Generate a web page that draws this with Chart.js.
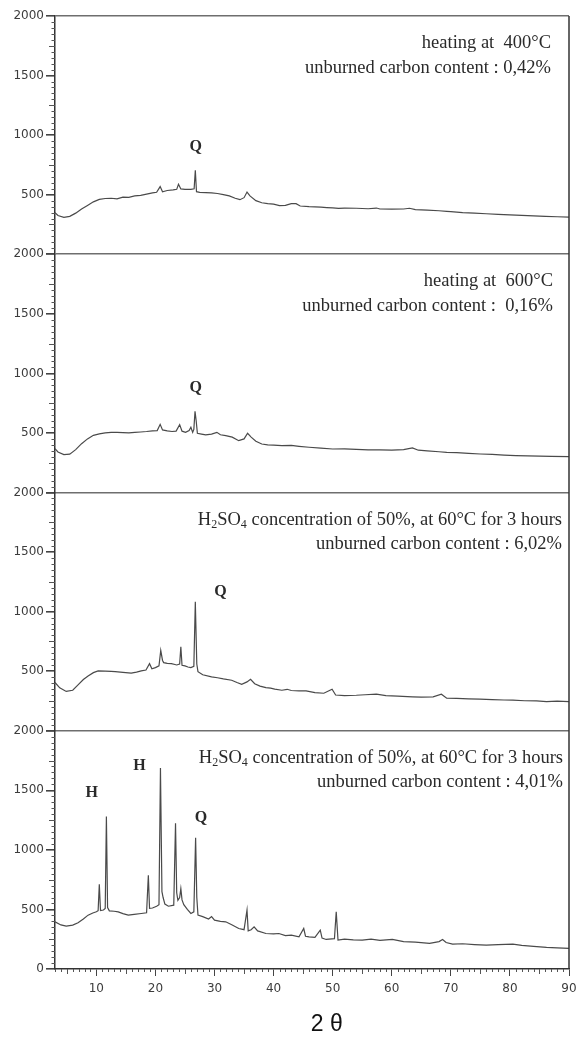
<!DOCTYPE html>
<html><head><meta charset="utf-8">
<script src="https://cdn.jsdelivr.net/npm/chart.js@4/dist/chart.umd.min.js"></script>
<style>html,body{margin:0;padding:0;background:#fff}#wrap{width:579px;height:1040px}</style>
</head><body><div id="wrap"><canvas id="c" width="579" height="1040"></canvas></div>
<script>
// ---- data (2θ in degrees, intensity in counts) ----
const yTicks = [0, 500, 1000, 1500, 2000];
const xTicks = [10, 20, 30, 40, 50, 60, 70, 80, 90];

const theta400 = [3,3.5,4.5,5.5,6.5,7.5,8.5,9.5,10.5,11.5,12.5,13.5,14.5,15.5,16.5,17.5,18.5,19.5,20.2,20.8,21.2,22,23,23.6,23.9,24.3,25,26,26.55,26.75,26.95,27.5,28.5,29.5,30.5,31.5,32.5,33.5,34.3,35,35.5,36,37,38,39,40,41,42,43,43.8,44.5,46,47,48,49,50,51,52,54,56,57.4,58,60,62,63,64,66,68,69.3,70,72,74,76,78,80,82,84,86,88,90];
const counts400 = [350,325,310,318,345,380,410,440,460,468,470,465,480,478,490,495,505,515,520,568,525,535,540,545,588,548,545,545,550,705,525,520,518,515,510,500,490,470,458,475,522,490,450,432,425,420,408,410,425,425,405,400,398,395,392,390,385,388,386,382,388,380,378,380,386,374,370,365,360,358,350,345,340,335,330,326,322,318,315,312];

const theta600 = [3,3.5,4.5,5.5,6.5,7.5,8.5,9.5,10.5,11.5,12.5,13.5,14.5,15.5,16.5,17.5,18.5,19.5,20.3,20.8,21.2,22,22.8,23.5,24.1,24.5,25.1,25.7,26,26.3,26.5,26.7,26.9,27.1,27.8,28.5,29.5,30.4,31,31.9,33,34.1,35,35.6,36.2,37,38,39,40,41.4,43,44.3,46,48,50,52,54,56,58,60,62,63.5,64.5,66,68,69.3,71,73,75,77,79,81,83,85,87,90];
const counts600 = [368,340,318,322,360,410,450,480,492,500,505,505,503,500,505,508,512,518,520,572,525,518,512,515,570,515,505,520,548,505,530,682,600,497,490,483,490,505,485,477,465,435,450,497,465,430,407,400,398,393,395,388,380,372,365,367,362,358,357,355,360,374,355,350,342,337,334,328,323,320,314,310,308,305,303,301];

const thetaAcidA = [3,3.8,4.9,6,6.9,7.8,8.6,9.5,10.3,11.5,12.5,13.2,14.5,15.9,16.8,17.6,18.4,19,19.4,20,20.6,20.9,21.2,21.4,22,22.7,23.3,23.6,24.1,24.3,24.5,25,25.5,26,26.5,26.75,27,27.2,28,29.5,30.5,31.5,32.9,33.8,34.6,35.5,36.1,36.8,37.7,38.7,39.5,40.2,41.4,42.3,43,44.3,45.5,47,48.5,49.9,50.5,52,54,55.5,57.4,59,61,63.5,65,67,68.4,69.3,71,73,74.9,77,79,80.5,82.5,84.5,86.2,88,90];
const countsAcidA = [405,360,330,340,385,430,460,488,502,500,498,497,490,483,492,502,510,563,520,530,545,675,590,572,565,563,556,552,560,705,550,544,535,530,540,1082,560,496,470,452,445,435,424,405,390,410,432,395,375,362,358,350,340,348,338,335,335,320,315,349,300,295,298,302,307,295,290,285,282,285,307,274,272,268,265,262,258,257,252,250,245,248,245];

const thetaAcidB = [3,4,4.9,6,6.9,7.8,8.6,9.4,10,10.3,10.5,10.7,11.2,11.5,11.7,11.9,12.2,13,13.7,14.5,15.4,16.4,17.6,18.5,18.8,19,19.5,20.2,20.6,20.85,21.1,21.3,21.6,22.2,23.1,23.4,23.6,23.8,24.1,24.3,24.5,24.8,25.4,26,26.5,26.8,27,27.2,28,29,29.5,30,31,31.9,33,34.1,35,35.5,35.7,36.2,36.7,37.3,38.7,40,40.9,42,43,44.3,45.1,45.4,46,47,47.9,48.2,48.9,50.3,50.6,50.9,52,53.5,55,56.5,58,60.1,62,64,66.4,68,68.6,69.2,70.3,72,74,76,78,80.5,82,84,86.2,88,90];
const countsAcidB = [396,370,360,368,388,420,452,470,480,490,711,490,495,508,1280,515,488,485,480,465,452,458,466,472,787,510,512,527,540,1688,650,600,545,527,536,1224,640,577,600,675,580,540,500,466,480,1102,600,452,440,420,440,410,400,396,370,340,330,494,320,330,354,320,298,295,298,280,285,270,340,275,270,265,326,260,248,255,480,243,250,245,243,250,240,248,230,225,215,230,248,222,209,212,205,200,205,209,198,190,181,178,173];

const panelTexts = [
  ["heating at  400°C", "unburned carbon content : 0,42%"],
  ["heating at  600°C", "unburned carbon content :  0,16%"],
  ["H2SO4 concentration of 50%, at 60°C for 3 hours", "unburned carbon content : 6,02%"],
  ["H2SO4 concentration of 50%, at 60°C for 3 hours", "unburned carbon content : 4,01%"]
];
const peakLabels = [
  [["Q", 26.8, 900]],
  [["Q", 26.8, 880]],
  [["Q", 31.0, 1170]],
  [["H", 9.2, 1475], ["H", 17.3, 1705], ["Q", 27.7, 1265]]
];

// ---- chart ----
const axisIds = ['y1', 'y2', 'y3', 'y4'];
const series = [[theta400, counts400], [theta600, counts600], [thetaAcidA, countsAcidA], [thetaAcidB, countsAcidB]];
const LINE = '#4a4a4a';

const datasets = series.map((s, i) => ({
  data: s[0].map((x, k) => ({x, y: s[1][k]})),
  yAxisID: axisIds[i],
  borderColor: LINE,
  borderWidth: 1.2,
  pointRadius: 0,
  tension: 0,
  fill: false
}));

function yScale(i) {
  return {
    type: 'linear',
    position: 'left',
    stack: 'panels',
    stackWeight: 1,
    weight: 4 - i,
    min: 0, max: 2000,
    afterBuildTicks: s => { s.ticks = yTicks.map(v => ({value: v})); },
    afterFit: s => { s.width = 55; },
    ticks: {
      font: {family: 'DejaVu Sans', size: 12},
      color: '#3c3c3c',
      padding: 2,
      callback: v => (v === 0 && i < 3) ? '' : String(v)
    },
    grid: {
      drawOnChartArea: true,
      color: c => (c.tick && c.tick.value === 2000) ? '#6e6e6e' : 'rgba(0,0,0,0)',
      lineWidth: 1.6,
      tickColor: '#444',
      tickLength: 9
    },
    border: {display: true, color: '#333', width: 1.5}
  };
}

const scales = {
  x: {
    type: 'linear',
    position: 'bottom',
    min: 3, max: 90,
    afterBuildTicks: s => { s.ticks = xTicks.map(v => ({value: v})); },
    afterFit: s => { s.height = 71; s.paddingLeft = 0; s.paddingRight = 0; },
    ticks: {font: {family: 'DejaVu Sans', size: 12}, color: '#3c3c3c', padding: 6, maxRotation: 0, autoSkip: false},
    grid: {drawOnChartArea: false, tickColor: '#444', tickLength: 7},
    border: {display: true, color: '#333', width: 1.5}
  }
};
axisIds.forEach((id, i) => { scales[id] = yScale(i); });

const decor = {
  id: 'decor',
  afterDraw(chart) {
    const ctx = chart.ctx, ca = chart.chartArea, xs = chart.scales.x;
    ctx.save();
    // right frame
    ctx.strokeStyle = '#333'; ctx.lineWidth = 1.5;
    ctx.beginPath(); ctx.moveTo(ca.right, ca.top); ctx.lineTo(ca.right, ca.bottom); ctx.stroke();
    // minor ticks
    ctx.strokeStyle = '#555'; ctx.lineWidth = 1;
    axisIds.forEach(id => {
      const s = chart.scales[id];
      for (let v = 0; v <= 2000; v += 50) {
        if (v % 500 === 0) continue;
        const len = (v % 250 === 0) ? 6 : 3.5;
        const py = Math.round(s.getPixelForValue(v)) + 0.5;
        ctx.beginPath(); ctx.moveTo(s.right - len, py); ctx.lineTo(s.right, py); ctx.stroke();
      }
    });
    for (let v = 3; v <= 90; v++) {
      if (v % 10 === 0) continue;
      const len = (v % 5 === 0) ? 5 : 3;
      const px = Math.round(xs.getPixelForValue(v)) + 0.5;
      ctx.beginPath(); ctx.moveTo(px, ca.bottom); ctx.lineTo(px, ca.bottom + len); ctx.stroke();
    }
    // panel texts
    ctx.fillStyle = '#2a2a2a';
    ctx.textBaseline = 'alphabetic';
    const rightOff = [18, 16, 7, 6];
    axisIds.forEach((id, i) => {
      const s = chart.scales[id];
      const top = s.getPixelForValue(2000);
      const rx = ca.right - rightOff[i];
      panelTexts[i].forEach((line, li) => {
        const by = top + 32 + li * 24.5;
        drawRich(ctx, line, rx, by);
      });
      // peak labels
      ctx.font = 'bold 16px "Liberation Serif"';
      ctx.textAlign = 'center'; ctx.textBaseline = 'middle';
      peakLabels[i].forEach(([t, x, y]) => {
        ctx.fillText(t, xs.getPixelForValue(x), s.getPixelForValue(y));
      });
      ctx.textBaseline = 'alphabetic';
    });
    // axis title
    ctx.font = '23px "Liberation Sans"';
    ctx.fillStyle = '#111';
    ctx.textAlign = 'center'; ctx.textBaseline = 'middle';
    ctx.fillText('2 θ', xs.getPixelForValue(49), chart.height - 15);
    ctx.restore();
  }
};

function drawRich(ctx, line, rx, by) {
  const big = '18.5px "Liberation Serif"', small = '12px "Liberation Serif"';
  let parts;
  if (line.startsWith('H2SO4')) {
    parts = [['H', big, 0], ['2', small, 3], ['SO', big, 0], ['4', small, 3], [line.slice(5), big, 0]];
  } else {
    parts = [[line, big, 0]];
  }
  let w = 0;
  parts.forEach(p => { ctx.font = p[1]; w += ctx.measureText(p[0]).width; });
  let x = rx - w;
  ctx.textAlign = 'left';
  parts.forEach(p => { ctx.font = p[1]; ctx.fillText(p[0], x, by + p[2]); x += ctx.measureText(p[0]).width; });
}

new Chart(document.getElementById('c'), {
  type: 'line',
  data: {datasets},
  options: {
    responsive: false,
    animation: false,
    layout: {padding: {top: 16, right: 10, left: 0, bottom: 0}},
    plugins: {legend: {display: false}, tooltip: {enabled: false}},
    scales
  },
  plugins: [decor]
});
</script></body></html>
